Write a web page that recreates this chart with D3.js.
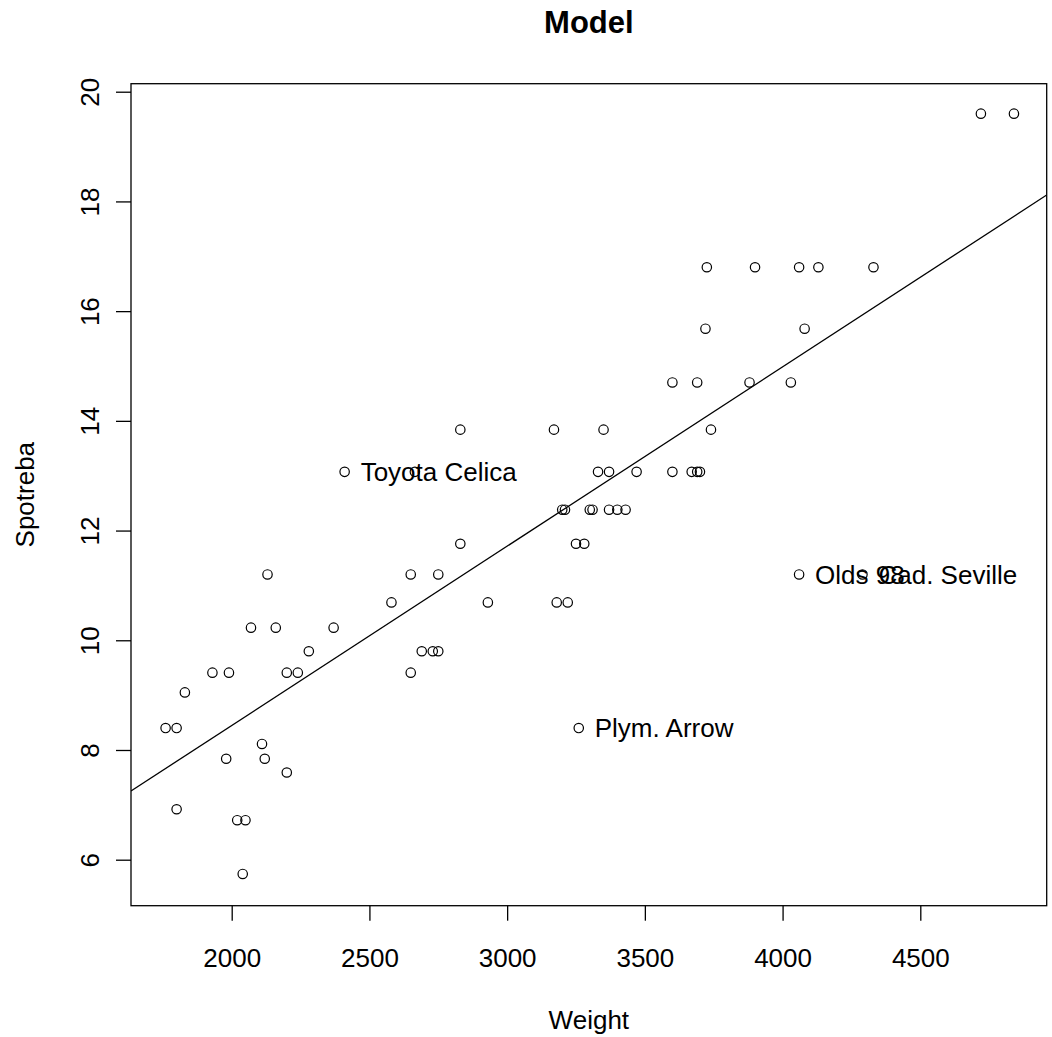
<!DOCTYPE html>
<html>
<head>
<meta charset="utf-8">
<script src="https://cdn.jsdelivr.net/npm/d3@7"></script>
<style>
  html, body { margin: 0; padding: 0; background: #fff; }
  text { font-family: "Liberation Sans", Arial, Helvetica, sans-serif; fill: #000; }
</style>
</head>
<body>
<svg id="chart" width="1052" height="1037"></svg>
<script>
// ---- data ----
const weight = [
  4720, 4840,
  3725, 3900, 4060, 4130, 4330,
  3720, 4080,
  3600, 3690, 3880, 4030,
  2830, 3170, 3350, 3740,
  2410, 2665, 3330, 3370, 3470, 3600, 3670, 3690, 3700,
  3200, 3210, 3300, 3310, 3370, 3400, 3430,
  2830, 3250, 3280,
  2130, 2650, 2750, 4060, 4290,
  2580, 2930, 3180, 3220,
  2070, 2160, 2370,
  2280, 2690, 2730, 2750,
  1930, 1990, 2200, 2240, 2650,
  1830,
  1760, 1800, 3260,
  2110,
  1980, 2120,
  2200,
  1800,
  2020, 2050,
  2040
];
const spotreba = [
  19.60, 19.60,
  16.80, 16.80, 16.80, 16.80, 16.80,
  15.68, 15.68,
  14.70, 14.70, 14.70, 14.70,
  13.84, 13.84, 13.84, 13.84,
  13.07, 13.07, 13.07, 13.07, 13.07, 13.07, 13.07, 13.07, 13.07,
  12.38, 12.38, 12.38, 12.38, 12.38, 12.38, 12.38,
  11.76, 11.76, 11.76,
  11.20, 11.20, 11.20, 11.20, 11.20,
  10.69, 10.69, 10.69, 10.69,
  10.23, 10.23, 10.23,
  9.80, 9.80, 9.80, 9.80,
  9.41, 9.41, 9.41, 9.41, 9.41,
  9.05,
  8.40, 8.40, 8.40,
  8.11,
  7.84, 7.84,
  7.59,
  6.92,
  6.72, 6.72,
  5.74
];
const labelNames   = ["Toyota Celica", "Plym. Arrow", "Olds 98", "Cad. Seville"];
const labelWeight  = [2410, 3260, 4060, 4290];
const labelSpotreba = [13.07, 8.40, 11.20, 11.20];

const xTicks = [2000, 2500, 3000, 3500, 4000, 4500];
const yTicks = [6, 8, 10, 12, 14, 16, 18, 20];
const xLim = [1634.4, 4958.9];
const yLim = [5.1615, 20.146];
const fitIntercept = 1.911;
const fitSlope = 0.003268;

const titleText = "Model";
const xLabel = "Weight";
const yLabel = "Spotreba";

// ---- layout ----
const pLeft = 131, pRight = 1046.7, pTop = 83.7, pBottom = 905.7;
const fontSize = 26;

const svg = d3.select("#chart");
const x = d3.scaleLinear().domain(xLim).range([pLeft, pRight]);
const y = d3.scaleLinear().domain(yLim).range([pBottom, pTop]);

// regression line (clipped to plot region)
svg.append("clipPath").attr("id", "plotclip")
  .append("rect").attr("x", pLeft).attr("y", pTop)
  .attr("width", pRight - pLeft).attr("height", pBottom - pTop);

const lineGen = d3.line().x(d => x(d)).y(d => y(fitIntercept + fitSlope * d));
svg.append("path")
  .attr("clip-path", "url(#plotclip)")
  .attr("d", lineGen(xLim))
  .attr("fill", "none").attr("stroke", "#000").attr("stroke-width", 1.3);

// points
const pts = weight.map((w, i) => ({ w, s: spotreba[i] }));
svg.append("g").selectAll("circle").data(pts).join("circle")
  .attr("cx", d => x(d.w)).attr("cy", d => y(d.s))
  .attr("r", 4.7)
  .attr("fill", "none").attr("stroke", "#000").attr("stroke-width", 1.2);

// point labels
svg.append("g").selectAll("text").data(labelNames).join("text")
  .attr("x", (d, i) => x(labelWeight[i]) + 16)
  .attr("y", (d, i) => y(labelSpotreba[i]))
  .attr("dy", "0.36em")
  .attr("font-size", fontSize)
  .text(d => d);

// frame
svg.append("rect")
  .attr("x", pLeft).attr("y", pTop)
  .attr("width", pRight - pLeft).attr("height", pBottom - pTop)
  .attr("fill", "none").attr("stroke", "#000").attr("stroke-width", 1.3);

// x axis
const xAxis = d3.axisBottom(x).tickValues(xTicks).tickSize(15).tickPadding(30)
  .tickFormat(d3.format("d"));
const gx = svg.append("g").attr("transform", `translate(0,${pBottom})`).call(xAxis);
gx.select(".domain").remove();
gx.selectAll(".tick line").attr("stroke", "#000").attr("stroke-width", 1.3);
gx.selectAll(".tick text")
  .attr("font-size", fontSize).attr("font-family", "Liberation Sans, Arial, sans-serif")
  .attr("fill", "#000").attr("y", 967 - pBottom).attr("dy", null);

// y axis
const yAxis = d3.axisLeft(y).tickValues(yTicks).tickSize(15).tickFormat(d3.format("d"));
const gy = svg.append("g").attr("transform", `translate(${pLeft},0)`).call(yAxis);
gy.select(".domain").remove();
gy.selectAll(".tick line").attr("stroke", "#000").attr("stroke-width", 1.3);
gy.selectAll(".tick text")
  .attr("font-size", fontSize).attr("font-family", "Liberation Sans, Arial, sans-serif")
  .attr("fill", "#000")
  .attr("x", null).attr("dy", null)
  .attr("text-anchor", "middle")
  .attr("transform", `translate(${98.5 - pLeft},0) rotate(-90)`);

// titles
svg.append("text")
  .attr("x", (pLeft + pRight) / 2).attr("y", 33.3)
  .attr("text-anchor", "middle").attr("font-size", 31).attr("font-weight", "bold")
  .text(titleText);

svg.append("text")
  .attr("x", (pLeft + pRight) / 2).attr("y", 1029)
  .attr("text-anchor", "middle").attr("font-size", fontSize)
  .text(xLabel);

svg.append("text")
  .attr("transform", `translate(33.5,${(pTop + pBottom) / 2}) rotate(-90)`)
  .attr("text-anchor", "middle").attr("font-size", fontSize)
  .text(yLabel);
</script>
</body>
</html>
